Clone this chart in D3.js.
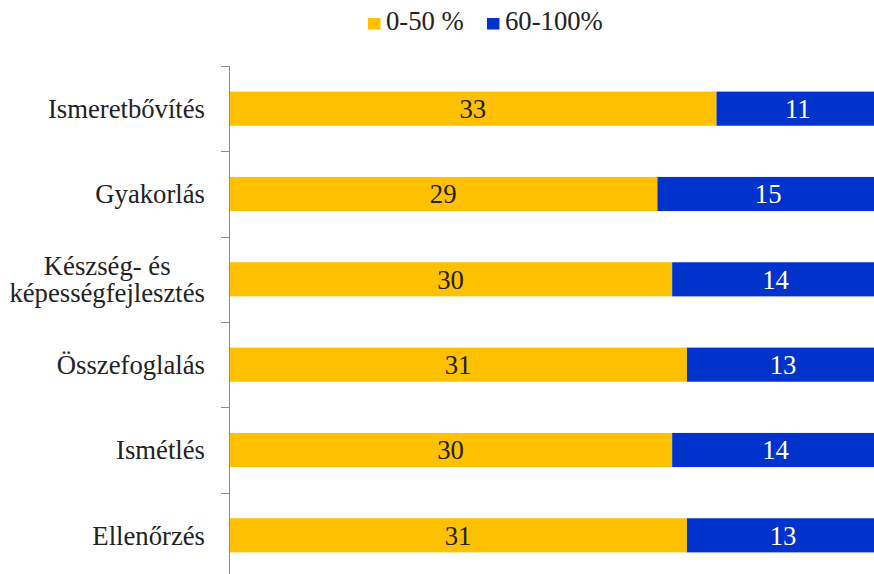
<!DOCTYPE html>
<html>
<head>
<meta charset="utf-8">
<script src="https://cdn.jsdelivr.net/npm/d3@7"></script>
<style>
  html, body { margin: 0; padding: 0; background: #fff; }
</style>
</head>
<body>
<svg id="chart" width="874" height="574"></svg>
<script>
// Categories (top to bottom) and the two stacked series
const categories = [
  ["Ismeretbővítés"],
  ["Gyakorlás"],
  ["Készség- és", "képességfejlesztés"],
  ["Összefoglalás"],
  ["Ismétlés"],
  ["Ellenőrzés"]
];
const low = [33, 29, 30, 31, 30, 31];      // 0-50 %
const high = [11, 15, 14, 13, 14, 13];     // 60-100%
const seriesNames = ["0-50 %", "60-100%"];
const seriesColors = ["#FFC000", "#0033CC"];
const labelColors = ["#222222", "#ffffff"];
const FONT = "Liberation Serif";
const FS = 26.7;

const svg = d3.select("#chart");

const keys = categories.map((c, i) => i);
const rows = keys.map(i => ({ key: i, s0: low[i], s1: high[i] }));
const stacked = d3.stack().keys(["s0", "s1"])(rows);

const x = d3.scaleLinear().domain([0, 44]).range([229, 879]);
const y = d3.scaleBand().domain(keys).range([66, 578]).paddingInner(0.6).paddingOuter(0.3);

// Bars
const layers = svg.append("g").selectAll("g")
  .data(stacked).join("g")
  .attr("fill", (d, i) => seriesColors[i]);

layers.selectAll("rect")
  .data(d => d).join("rect")
  .attr("x", d => x(d[0]))
  .attr("y", d => y(d.data.key))
  .attr("width", d => x(d[1]) - x(d[0]))
  .attr("height", y.bandwidth());

// Value labels centred in each segment
stacked.forEach((layer, li) => {
  svg.append("g").selectAll("text")
    .data(layer).join("text")
    .attr("x", d => (x(d[0]) + x(d[1])) / 2)
    .attr("y", d => y(d.data.key) + y.bandwidth() / 2)
    .attr("dy", "0.35em")
    .attr("text-anchor", "middle")
    .attr("font-family", FONT)
    .attr("font-size", FS)
    .attr("fill", labelColors[li])
    .text(d => d[1] - d[0]);
});

// Category axis with band-boundary ticks
const axisG = svg.append("g");
const boundaries = d3.range(categories.length + 1).map(i => 66 + i * (512 / categories.length));
axisG.append("line")
  .attr("x1", 229.5).attr("x2", 229.5)
  .attr("y1", 66).attr("y2", 578)
  .attr("stroke", "#8c8c8c").attr("stroke-width", 1);
axisG.selectAll("line.tick")
  .data(boundaries).join("line")
  .attr("class", "tick")
  .attr("x1", 221).attr("x2", 229.5)
  .attr("y1", d => Math.round(d) + 0.5).attr("y2", d => Math.round(d) + 0.5)
  .attr("stroke", "#8c8c8c").attr("stroke-width", 1);

// Category labels: right-aligned block, lines centred within the block
const labelRight = 205;
const catLabels = svg.append("g").selectAll("text")
  .data(keys).join("text")
  .attr("font-family", FONT)
  .attr("font-size", FS)
  .attr("fill", "#222");
catLabels.each(function (k) {
  const lines = categories[k];
  const cy = y(k) + y.bandwidth() / 2;
  const lh = 27.5;
  const t = d3.select(this);
  const spans = lines.map((ln, j) => t.append("tspan")
    .attr("y", cy + (j - (lines.length - 1) / 2) * lh)
    .attr("dy", "0.35em")
    .text(ln));
  if (lines.length === 1) {
    t.attr("text-anchor", "end");
    spans[0].attr("x", labelRight);
  } else {
    const widest = d3.max(spans, s => s.node().getComputedTextLength());
    t.attr("text-anchor", "middle");
    spans.forEach(s => s.attr("x", labelRight - widest / 2));
  }
});

// Legend
const legendX = [368, 487];
const legend = svg.append("g");
seriesNames.forEach((name, i) => {
  legend.append("rect")
    .attr("x", legendX[i]).attr("y", 18)
    .attr("width", 12.5).attr("height", 11.5)
    .attr("fill", seriesColors[i]);
  legend.append("text")
    .attr("x", legendX[i] + 18).attr("y", 30)
    .attr("font-family", FONT)
    .attr("font-size", FS)
    .attr("fill", "#222")
    .text(name);
});
</script>
</body>
</html>
